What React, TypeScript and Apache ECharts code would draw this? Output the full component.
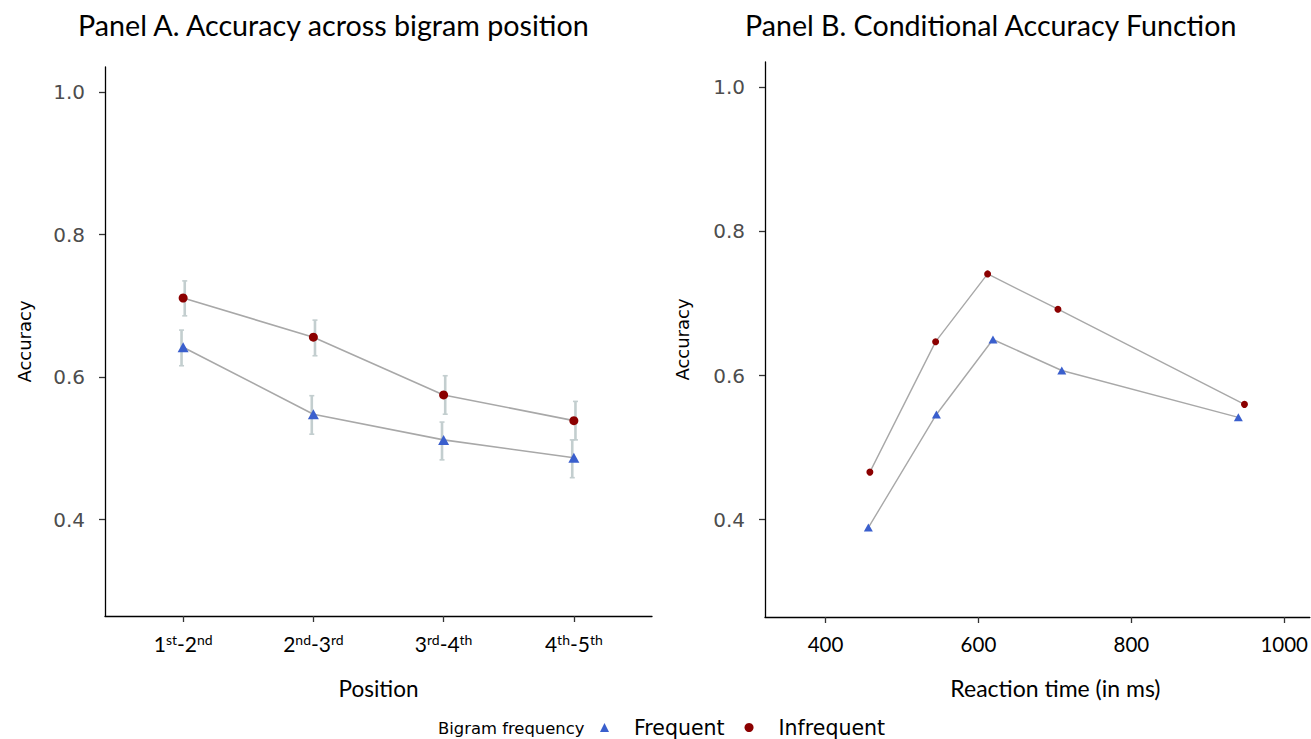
import React, { useEffect, useRef } from "react";
import * as echarts from "echarts";

// ---- Data ----
const positionLabels = ["1st-2nd", "2nd-3rd", "3rd-4th", "4th-5th"];
const positionX = [1, 2, 3, 4];
const freqAccA = [0.642, 0.548, 0.512, 0.487];
const infreqAccA = [0.711, 0.656, 0.575, 0.539];
const freqLowA = [0.616, 0.52, 0.484, 0.459];
const freqHighA = [0.666, 0.574, 0.537, 0.512];
const infreqLowA = [0.686, 0.63, 0.548, 0.512];
const infreqHighA = [0.735, 0.68, 0.602, 0.566];

const freqRT = [456, 545, 619, 709, 940];
const freqAccB = [0.389, 0.546, 0.65, 0.607, 0.542];
const infreqRT = [458, 544, 612, 704, 948];
const infreqAccB = [0.466, 0.647, 0.741, 0.692, 0.56];

const yTicks = [0.4, 0.6, 0.8, 1.0];
const xTicksB = [400, 600, 800, 1000];

const BLUE = "#3a5fcd";
const RED = "#8b0000";
const LINE = "#a8a8a8";
const ERR = "#c3cecf";
const AX_FONT = "DejaVu Sans";
const CAL_FONT = "Lato";

function supLabel(s: string) {
  const m = s.match(/^(\d)([a-z]+)-(\d)([a-z]+)$/);
  if (!m) return s;
  return `{b|${m[1]}}{s|${m[2]}}{b|-${m[3]}}{s|${m[4]}}`;
}

export default function App() {
  const ref = useRef<HTMLDivElement>(null);
  useEffect(() => {
    document.body.style.margin = "0";
    if (!ref.current) return;
    const chart = echarts.init(ref.current, undefined, { renderer: "svg" });

    const yAxisCommon = (gridIndex: number, gap: number) => ({
      type: "value" as const,
      gridIndex,
      min: 0.265,
      max: 1.035,
      name: "Accuracy",
      nameLocation: "middle" as const,
      nameGap: gap,
      nameRotate: 90,
      nameTextStyle: { fontFamily: AX_FONT, fontSize: 18, color: "#000" },
      axisLine: { show: true, lineStyle: { color: "#000", width: 1.3 } },
      axisTick: { show: true, length: 6, customValues: yTicks, lineStyle: { color: "#333", width: 1.3 } },
      axisLabel: {
        customValues: yTicks,
        formatter: (v: number) => v.toFixed(1),
        fontFamily: AX_FONT,
        fontSize: 20,
        color: "#4d4d4d",
        margin: 20,
      },
      splitLine: { show: false },
    });

    const errData = (lo: number[], hi: number[]) => positionX.map((x, i) => [x, lo[i], hi[i]]);
    const errRender = (dodge: number) => (params: any, api: any) => {
      const x = api.value(0);
      const p1 = api.coord([x, api.value(1)]);
      const p2 = api.coord([x, api.value(2)]);
      const cx = p1[0] + dodge;
      const cap = 2.5;
      return {
        type: "group",
        children: [
          { type: "line", shape: { x1: cx, y1: p1[1], x2: cx, y2: p2[1] }, style: { stroke: ERR, lineWidth: 2.6 } },
          { type: "line", shape: { x1: cx - cap, y1: p1[1], x2: cx + cap, y2: p1[1] }, style: { stroke: ERR, lineWidth: 1.6 } },
          { type: "line", shape: { x1: cx - cap, y1: p2[1], x2: cx + cap, y2: p2[1] }, style: { stroke: ERR, lineWidth: 1.6 } },
        ],
      };
    };

    const option: any = {
      animation: false,
      backgroundColor: "#fff",
      title: [
        {
          text: "Panel A. Accuracy across bigram position",
          left: 78,
          top: 10,
          padding: 0,
          textStyle: { fontFamily: CAL_FONT, fontSize: 28.7, fontWeight: "normal", color: "#000" },
        },
        {
          text: "Panel B. Conditional Accuracy Function",
          left: 745,
          top: 10,
          padding: 0,
          textStyle: { fontFamily: CAL_FONT, fontSize: 28.6, fontWeight: "normal", color: "#000" },
        },
      ],
      legend: {
        left: 600,
        top: 717,
        padding: 0,
        itemWidth: 9,
        itemHeight: 9,
        itemGap: 20,
        data: [
          { name: "Frequent", icon: "triangle" },
          { name: "Infrequent", icon: "circle" },
        ],
        textStyle: { fontFamily: AX_FONT, fontSize: 20.5, lineHeight: 20, color: "#000", padding: [0, 0, 0, 20] },
      },
      graphic: [
        {
          type: "text",
          left: 438,
          top: 720,
          style: { text: "Bigram frequency", fontFamily: AX_FONT, fontSize: 16.4, fill: "#000" },
        },
      ],
      grid: [
        { left: 105, top: 67, width: 547, height: 549 },
        { left: 765, top: 62, width: 546, height: 555 },
      ],
      xAxis: [
        {
          type: "value",
          gridIndex: 0,
          min: 0.4,
          max: 4.6,
          name: "Position",
          nameLocation: "middle",
          nameGap: 61,
          nameTextStyle: { fontFamily: CAL_FONT, fontSize: 22.5, color: "#000" },
          axisLine: { show: true, lineStyle: { color: "#000", width: 1.3 } },
          axisTick: { show: true, length: 6, customValues: positionX, lineStyle: { color: "#333", width: 1.3 } },
          axisLabel: {
            customValues: positionX,
            formatter: (v: number) => supLabel(positionLabels[Math.round(v) - 1] || ""),
            margin: 16,
            rich: {
              b: { fontFamily: CAL_FONT, fontSize: 21, color: "#000", lineHeight: 23 },
              s: { fontFamily: CAL_FONT, fontSize: 14, color: "#000", lineHeight: 14, verticalAlign: "top" },
            },
          },
          splitLine: { show: false },
        },
        {
          type: "value",
          gridIndex: 1,
          min: 320.8,
          max: 1033.5,
          name: "Reaction time (in ms)",
          nameLocation: "middle",
          nameGap: 59,
          nameTextStyle: { fontFamily: CAL_FONT, fontSize: 23, color: "#000", padding: [0, 0, 0, 36] },
          axisLine: { show: true, lineStyle: { color: "#000", width: 1.3 } },
          axisTick: { show: true, length: 6, customValues: xTicksB, lineStyle: { color: "#333", width: 1.3 } },
          axisLabel: {
            customValues: xTicksB,
            formatter: (v: number) => String(v),
            fontFamily: CAL_FONT,
            fontSize: 20.5,
            color: "#000",
            margin: 16,
          },
          splitLine: { show: false },
        },
      ],
      yAxis: [yAxisCommon(0, 72), yAxisCommon(1, 74)],
      series: [
        {
          type: "custom",
          name: "errFreq",
          xAxisIndex: 0,
          yAxisIndex: 0,
          data: errData(freqLowA, freqHighA),
          renderItem: errRender(-1.6),
          z: 1,
          silent: true,
        },
        {
          type: "custom",
          name: "errInfreq",
          xAxisIndex: 0,
          yAxisIndex: 0,
          data: errData(infreqLowA, infreqHighA),
          renderItem: errRender(1.6),
          z: 1,
          silent: true,
        },
        {
          type: "line",
          name: "Frequent",
          xAxisIndex: 0,
          yAxisIndex: 0,
          data: positionX.map((x, i) => [x, freqAccA[i]]),
          symbol: "triangle",
          symbolSize: [11, 10],
          lineStyle: { color: LINE, width: 1.6 },
          itemStyle: { color: BLUE },
          z: 3,
        },
        {
          type: "line",
          name: "Infrequent",
          xAxisIndex: 0,
          yAxisIndex: 0,
          data: positionX.map((x, i) => [x, infreqAccA[i]]),
          symbol: "circle",
          symbolSize: 9,
          lineStyle: { color: LINE, width: 1.6 },
          itemStyle: { color: RED },
          z: 3,
        },
        {
          type: "line",
          name: "Frequent",
          xAxisIndex: 1,
          yAxisIndex: 1,
          data: freqRT.map((x, i) => [x, freqAccB[i]]),
          symbol: "triangle",
          symbolSize: [9, 8],
          lineStyle: { color: LINE, width: 1.4 },
          itemStyle: { color: BLUE },
          z: 3,
        },
        {
          type: "line",
          name: "Infrequent",
          xAxisIndex: 1,
          yAxisIndex: 1,
          data: infreqRT.map((x, i) => [x, infreqAccB[i]]),
          symbol: "circle",
          symbolSize: 7,
          lineStyle: { color: LINE, width: 1.4 },
          itemStyle: { color: RED },
          z: 3,
        },
      ],
    };
    chart.setOption(option);
    return () => chart.dispose();
  }, []);
  return <div ref={ref} style={{ width: 1311, height: 739 }} />;
}
